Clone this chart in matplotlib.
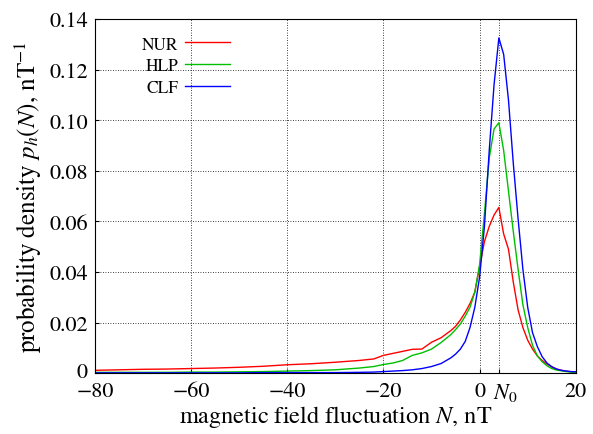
import matplotlib
matplotlib.use("Agg")
import matplotlib.pyplot as plt
import matplotlib.transforms as mtransforms

# fluctuation values (nT)
N = [-80, -75, -70, -65, -60, -55, -50, -45, -40, -35, -30, -25, -22, -20, -18, -16,
     -14, -12, -10, -8, -6, -5, -4, -3, -2, -1, 0, 1, 2, 3, 4, 5, 6, 7, 8, 9, 10,
     11, 12, 13, 14, 15, 16, 17, 18, 19, 20]

nur = [0.0011, 0.0013, 0.0015, 0.0016, 0.0018, 0.0020, 0.0023, 0.0027, 0.0033, 0.0037,
       0.0043, 0.0050, 0.0056, 0.0070, 0.0078, 0.0086, 0.0094, 0.0095, 0.0122, 0.0140,
       0.0168, 0.0185, 0.0210, 0.0240, 0.0275, 0.0320, 0.0420, 0.0520, 0.0580, 0.0625,
       0.0655, 0.0550, 0.0490, 0.0360, 0.0250, 0.0180, 0.0130, 0.0095, 0.0068, 0.0050,
       0.0036, 0.0025, 0.0016, 0.0011, 0.0008, 0.0005, 0.0004]

hlp = [0.0003, 0.0003, 0.0003, 0.0003, 0.0004, 0.0004, 0.0005, 0.0006, 0.0008, 0.0010,
       0.0013, 0.0020, 0.0026, 0.0034, 0.0040, 0.0050, 0.0070, 0.0080, 0.0095, 0.0121,
       0.0152, 0.0172, 0.0194, 0.0225, 0.0260, 0.0320, 0.0430, 0.0630, 0.0850, 0.0965,
       0.0990, 0.0880, 0.0720, 0.0560, 0.0410, 0.0270, 0.0180, 0.0110, 0.0068, 0.0045,
       0.0029, 0.0018, 0.0012, 0.0009, 0.0006, 0.0004, 0.0003]

clf = [0.0001, 0.0001, 0.0001, 0.0001, 0.0001, 0.0001, 0.0001, 0.0002, 0.0002, 0.0002,
       0.0002, 0.0003, 0.0004, 0.0006, 0.0008, 0.0010, 0.0013, 0.0018, 0.0026, 0.0038,
       0.0060, 0.0075, 0.0095, 0.0125, 0.0180, 0.0260, 0.0380, 0.0580, 0.0880, 0.1140,
       0.1325, 0.1260, 0.1080, 0.0830, 0.0610, 0.0410, 0.0260, 0.0160, 0.0105, 0.0065,
       0.0040, 0.0025, 0.0016, 0.0011, 0.0008, 0.0006, 0.0005]

N0 = 4
xticks = [-80, -60, -40, -20, 0, N0, 20]
xticklabels = ["\u221280", "\u221260", "\u221240", "\u221220", "0", "$N_0$", "20"]
yticks = [0, 0.02, 0.04, 0.06, 0.08, 0.10, 0.12, 0.14]
yticklabels = ["0", "0.02", "0.04", "0.06", "0.08", "0.10", "0.12", "0.14"]

plt.rcParams["font.family"] = "serif"
plt.rcParams["font.serif"] = ["STIXGeneral", "Liberation Serif"]
plt.rcParams["mathtext.fontset"] = "stix"

fig = plt.figure(figsize=(5.93, 4.35), dpi=100)
ax = fig.add_axes([0.160, 0.140, 0.811, 0.814])

ax.plot(N, nur, color="#ff0000", lw=1.0, label="NUR")
ax.plot(N, hlp, color="#00c000", lw=1.0, label="HLP")
ax.plot(N, clf, color="#0000ff", lw=1.0, label="CLF")

ax.set_xlim(-80, 20)
ax.set_ylim(0, 0.14)
ax.set_xticks(xticks)
ax.set_xticklabels(xticklabels)
ax.set_yticks(yticks)
ax.set_yticklabels(yticklabels)
ax.tick_params(direction="in", labelsize=16, length=3)
ax.tick_params(axis="x", pad=6)
ax.tick_params(axis="y", pad=5)
# nudge N0 label a little right so it does not touch the "0"
lab = ax.get_xticklabels()[5]
lab.set_transform(lab.get_transform() +
                  mtransforms.ScaledTranslation(6 / 100, 0, fig.dpi_scale_trans))
# and lift the y "0" a touch off the "-80"
lab0 = ax.get_yticklabels()[0]
lab0.set_transform(lab0.get_transform() +
                   mtransforms.ScaledTranslation(0, 3 / 100, fig.dpi_scale_trans))
ax.grid(True, color="black", linestyle=(0, (1, 2)), linewidth=0.6)

ax.set_xlabel("magnetic field fluctuation $N$, nT", fontsize=17.5, labelpad=0)
ax.set_ylabel("probability density $p_h(N)$, nT$^{-1}$", fontsize=18, labelpad=4)

ax.legend(loc="upper left", bbox_to_anchor=(0.065, 0.995), frameon=False,
          markerfirst=False, fontsize=12.5, handlelength=2.6, labelspacing=0.33,
          handletextpad=0.4)

fig.savefig("out.png", dpi=100)
